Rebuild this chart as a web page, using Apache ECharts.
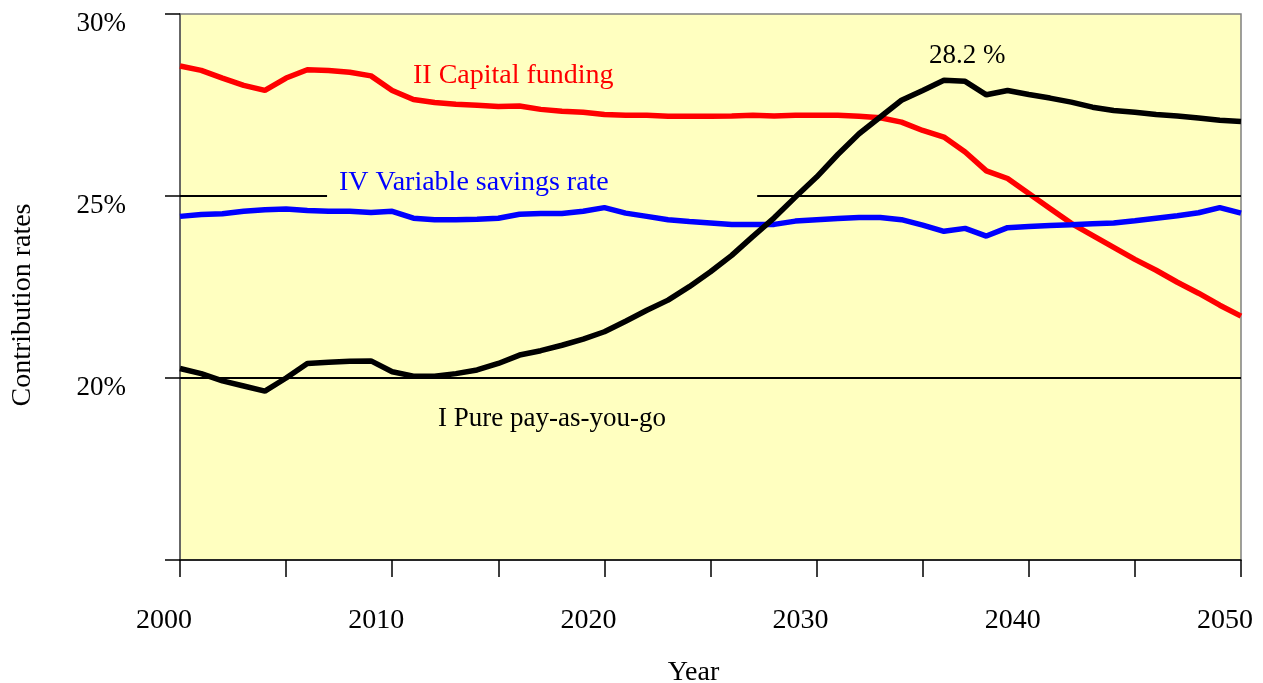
<!DOCTYPE html>
<html>
<head>
<meta charset="utf-8">
<script src="https://cdn.jsdelivr.net/npm/echarts@6/dist/echarts.min.js"></script>
<style>html,body{margin:0;padding:0;background:#fff;}#chart{width:1263px;height:683px;}</style>
</head>
<body>
<div id="chart"></div>
<script>
const years = [];
for (let y = 2000; y <= 2050; y++) years.push(y);

const capitalFunding = [28.57,28.45,28.24,28.04,27.90,28.24,28.47,28.45,28.40,28.30,
  27.90,27.65,27.57,27.52,27.49,27.46,27.47,27.38,27.33,27.30,
  27.24,27.22,27.22,27.19,27.19,27.19,27.20,27.22,27.20,27.22,
  27.22,27.22,27.19,27.15,27.03,26.80,26.62,26.21,25.69,25.48,
  25.07,24.66,24.25,23.92,23.59,23.26,22.96,22.63,22.33,22.00,21.70];

const savingsRate = [24.44,24.49,24.51,24.58,24.62,24.64,24.60,24.58,24.58,24.55,
  24.58,24.39,24.35,24.35,24.36,24.39,24.50,24.52,24.52,24.58,
  24.68,24.53,24.44,24.35,24.30,24.26,24.22,24.22,24.22,24.31,
  24.35,24.38,24.41,24.41,24.35,24.20,24.03,24.11,23.90,24.13,
  24.16,24.19,24.21,24.24,24.26,24.32,24.39,24.46,24.54,24.68,24.53];

const payAsYouGo = [20.26,20.12,19.92,19.78,19.64,20.00,20.40,20.43,20.46,20.47,
  20.17,20.05,20.05,20.12,20.22,20.40,20.63,20.75,20.90,21.07,
  21.27,21.56,21.86,22.14,22.51,22.92,23.37,23.89,24.40,24.97,
  25.52,26.14,26.71,27.17,27.63,27.90,28.18,28.15,27.78,27.90,
  27.79,27.69,27.58,27.44,27.35,27.30,27.24,27.20,27.14,27.08,27.05];

const seriesNames = ['II Capital funding', 'IV Variable savings rate', 'I Pure pay-as-you-go'];
const peakLabel = '28.2 %';
const yTickLabels = {20: '20%', 25: '25%', 30: '30%'};

const FONT = "'Liberation Serif', 'Times New Roman', serif";
const pair = (arr) => arr.map((v, i) => [years[i], v]);

const chart = echarts.init(document.getElementById('chart'), null, {renderer: 'canvas'});
chart.setOption({
  animation: false,
  backgroundColor: '#ffffff',
  grid: {left: 180, right: 22, top: 14, bottom: 123, show: true,
    outerBoundsMode: 'none', containLabel: false,
    backgroundColor: '#FFFFC0', borderColor: '#808080', borderWidth: 1.5},
  xAxis: {
    type: 'value', min: 2000, max: 2050, interval: 5,
    name: 'Year', nameLocation: 'middle', nameGap: 99,
    nameTextStyle: {fontFamily: FONT, fontSize: 28, color: '#000', padding: [0, 34, 0, 0]},
    axisLine: {show: true, lineStyle: {color: '#000', width: 1.5}},
    axisTick: {show: true, length: 17, inside: false, lineStyle: {color: '#000', width: 1.5}},
    splitLine: {show: false},
    axisLabel: {margin: 47, fontFamily: FONT, fontSize: 28, color: '#000',
      padding: [0, 32, 0, 0],
      formatter: v => (v % 10 === 0 ? String(v) : '')}
  },
  yAxis: {
    type: 'value', min: 15, max: 30, interval: 5,
    name: 'Contribution rates', nameLocation: 'middle', nameGap: 143, nameRotate: 90,
    nameTextStyle: {fontFamily: FONT, fontSize: 28, color: '#000', padding: [0, 36, 0, 0]},
    axisLine: {show: true, lineStyle: {color: '#555', width: 1.5}},
    axisTick: {show: true, length: 15, inside: false, lineStyle: {color: '#000', width: 1.5}},
    splitLine: {show: false},
    axisLabel: {margin: 54, fontFamily: FONT, fontSize: 27, color: '#000',
      verticalAlign: 'top', lineHeight: 20,
      formatter: v => yTickLabels[v] || ''}
  },
  series: [
    {
      type: 'line', name: 'gridlines', data: [], z: 1, silent: true,
      markLine: {
        silent: true, symbol: 'none', label: {show: false},
        lineStyle: {color: '#000', width: 2, type: 'solid'},
        data: [
          [{coord: [2000, 20]}, {coord: [2050, 20]}],
          [{coord: [2000, 25]}, {coord: [2006.93, 25]}],
          [{coord: [2027.2, 25]}, {coord: [2050, 25]}]
        ]
      }
    },
    {type: 'line', name: seriesNames[0], data: pair(capitalFunding), showSymbol: false, z: 3,
      lineStyle: {color: '#FF0000', width: 5.5}, itemStyle: {color: '#FF0000'}},
    {type: 'line', name: seriesNames[1], data: pair(savingsRate), showSymbol: false, z: 3,
      lineStyle: {color: '#0000FF', width: 5.5}, itemStyle: {color: '#0000FF'}},
    {type: 'line', name: seriesNames[2], data: pair(payAsYouGo), showSymbol: false, z: 4,
      lineStyle: {color: '#000000', width: 5.5}, itemStyle: {color: '#000000'}}
  ],
  graphic: [
    {type: 'text', left: 413, top: 62, z: 10,
      style: {text: seriesNames[0], fill: '#FF0000', font: '28px ' + FONT}},
    {type: 'text', left: 339, top: 169, z: 10,
      style: {text: seriesNames[1], fill: '#0000FF', font: '28px ' + FONT}},
    {type: 'text', left: 438, top: 405, z: 10,
      style: {text: seriesNames[2], fill: '#000000', font: '27px ' + FONT}},
    {type: 'text', left: 929, top: 42, z: 10,
      style: {text: peakLabel, fill: '#000000', font: '27px ' + FONT}}
  ]
});
</script>
</body>
</html>
